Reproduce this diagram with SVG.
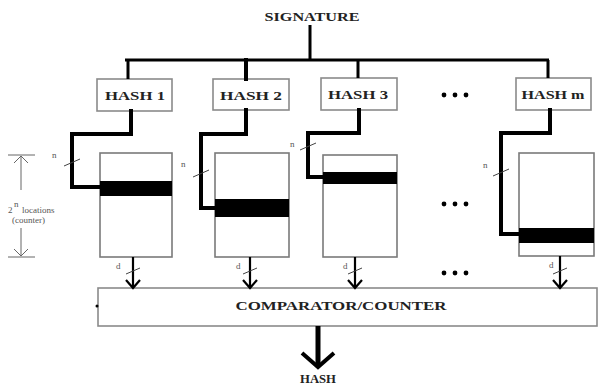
<svg xmlns="http://www.w3.org/2000/svg" width="598" height="385" viewBox="0 0 598 385">
<style>
.t{font-family:"Liberation Serif","Times New Roman",serif;font-weight:bold;fill:#222;text-anchor:middle}
.s{font-family:"Liberation Serif","Times New Roman",serif;fill:#555;font-size:9px}
.box{fill:#fff;stroke:#8a8a8a;stroke-width:1.6}
.mem{fill:#fff;stroke:#7a7a7a;stroke-width:1.6}
.bar{fill:#000}
.w{fill:none;stroke:#000;stroke-width:4;stroke-linejoin:miter;stroke-linecap:square}
.bus{fill:none;stroke:#000;stroke-width:3}
.tk{stroke:#444;stroke-width:1}
.ar{fill:none;stroke:#000;stroke-width:2.2}
.dim{fill:none;stroke:#666;stroke-width:1}
</style>
<rect width="598" height="385" fill="#fff"/>
<g id="signature"><text class="t" x="312" y="21" font-size="12" textLength="95" lengthAdjust="spacingAndGlyphs">SIGNATURE</text></g>
<g id="hash1"><rect class="box" x="97" y="79" width="75" height="32"/><text class="t" x="135" y="100" font-size="13" textLength="60" lengthAdjust="spacingAndGlyphs">HASH 1</text></g>
<g id="hash2"><rect class="box" x="213" y="79" width="76" height="31"/><text class="t" x="251" y="100" font-size="13" textLength="62" lengthAdjust="spacingAndGlyphs">HASH 2</text></g>
<g id="hash3"><rect class="box" x="321" y="78" width="76" height="32"/><text class="t" x="358" y="99" font-size="13" textLength="60" lengthAdjust="spacingAndGlyphs">HASH 3</text></g>
<g id="hashm"><rect class="box" x="516" y="78" width="75" height="32"/><text class="t" x="553" y="99" font-size="13" textLength="63" lengthAdjust="spacingAndGlyphs">HASH m</text></g>
<g id="mem1"><rect class="mem" x="100" y="153" width="72" height="104"/><rect class="bar" x="100" y="181" width="72" height="15"/></g>
<g id="mem2"><rect class="mem" x="215" y="153" width="74" height="104"/><rect class="bar" x="215" y="199" width="74" height="18"/></g>
<g id="mem3"><rect class="mem" x="323" y="155" width="74" height="102"/><rect class="bar" x="323" y="172" width="74" height="12"/></g>
<g id="memm"><rect class="mem" x="519" y="153" width="75" height="103"/><rect class="bar" x="519" y="228" width="75" height="15"/></g>
<g id="comparator"><rect class="box" x="98" y="288" width="499" height="38"/><circle cx="97" cy="306" r="1.5" fill="#000"/><text class="t" x="341" y="310" font-size="13" textLength="211" lengthAdjust="spacingAndGlyphs">COMPARATOR/COUNTER</text></g>
<g id="hash-out"><text class="t" x="318" y="383" font-size="12" textLength="36" lengthAdjust="spacingAndGlyphs">HASH</text></g>
<g id="dots">
<circle cx="444" cy="95" r="2.4"/><circle cx="455" cy="95" r="2.4"/><circle cx="466" cy="95" r="2.4"/>
<circle cx="444" cy="204" r="2.4"/><circle cx="455" cy="204" r="2.4"/><circle cx="466" cy="204" r="2.4"/>
<circle cx="444" cy="273" r="2.4"/><circle cx="455" cy="273" r="2.4"/><circle cx="466" cy="273" r="2.4"/>
</g>
<g id="dimension">
<path class="dim" d="M8 155H35M21 190V156M14 163L21 156L28 163M8 257H35M21 228V256M14 249L21 256L28 249"/>
<text class="s" x="8" y="213">2</text><text class="s" x="14" y="207" font-size="6">n</text>
<text class="s" x="22" y="213">locations</text>
<text class="s" x="12" y="223">(counter)</text>
</g>
<g id="connectors">
<path class="bus" d="M310 25V60M125 60H549"/>
<path class="bus" d="M128 60V79M358 60V78M548 60V78"/>
<path class="w" d="M246 60V79"/>
<path class="w" d="M131 111V134H72V187H100"/>
<path class="w" d="M246 110V134H201V208H215"/>
<path class="w" d="M359 110V133H308V177H323"/>
<path class="w" d="M550 110V133H501V234H519"/>
<path class="tk" d="M64 166L80 159M193 177L209 170M300 150L316 143M493 176L509 169"/>
<text class="s" x="52" y="158">n</text><text class="s" x="181" y="167">n</text><text class="s" x="290" y="147">n</text><text class="s" x="483" y="168">n</text>
<path class="ar" d="M133 257V288M126 280L133 288L140 280"/>
<path class="ar" d="M250 257V288M243 280L250 288L257 280"/>
<path class="ar" d="M355 257V288M348 280L355 288L362 280"/>
<path class="ar" d="M560 256V288M553 280L560 288L567 280"/>
<path class="tk" d="M126 274L140 268M243 274L257 268M348 274L362 268M553 274L567 268"/>
<text class="s" x="116" y="269">d</text><text class="s" x="236" y="269">d</text><text class="s" x="343" y="269">d</text><text class="s" x="549" y="268">d</text>
<path d="M318 326V366" stroke="#000" stroke-width="5" fill="none"/>
<path d="M302 353L318 367L334 353" stroke="#000" stroke-width="4" fill="none"/>
</g>
</svg>
